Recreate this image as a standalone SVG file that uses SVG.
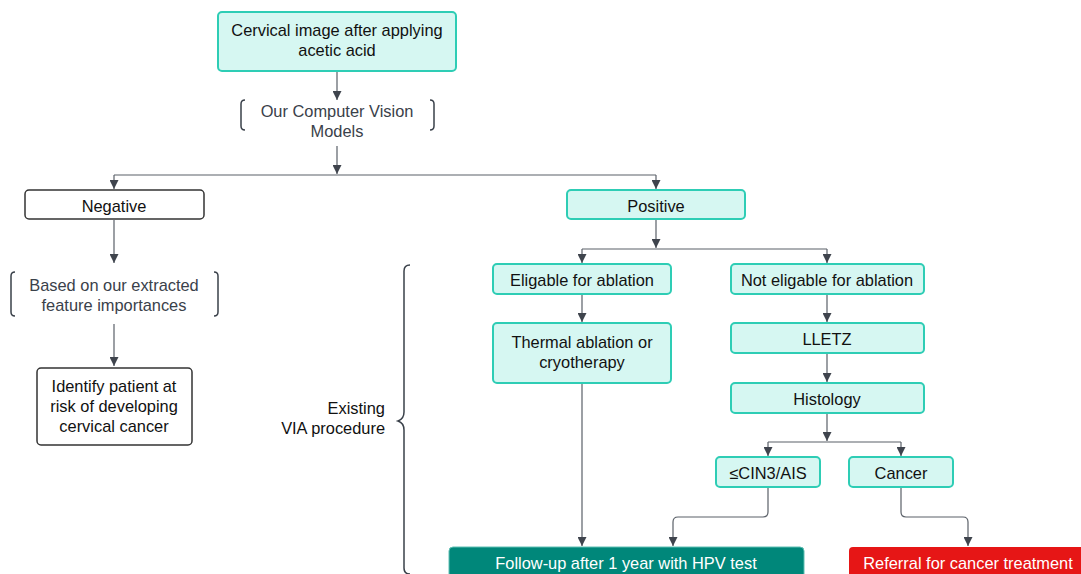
<svg xmlns="http://www.w3.org/2000/svg" width="1081" height="574" viewBox="0 0 1081 574">
  <defs>
    <marker id="arrow" viewBox="0 0 10 10" refX="10" refY="5" markerWidth="9" markerHeight="9" markerUnits="userSpaceOnUse" orient="auto">
      <path d="M0,0 L10,5 L0,10 Z" fill="#3f444d"/>
    </marker>
    <style>
      text { font-family: "Liberation Sans", Arial, sans-serif; font-size: 16.4px; text-anchor: middle; fill: #111; }
      .box { fill: #d6f7f2; stroke: #2ecdb5; stroke-width: 2; }
      .plain { fill: #ffffff; stroke: #333333; stroke-width: 1.5; }
      .note { fill: #3a414a; }
      .bracket { fill: none; stroke: #3a414a; stroke-width: 1.5; }
      .wire { fill: none; stroke: #5a6068; stroke-width: 1.2; }
      .arrow { marker-end: url(#arrow); }
      .light { fill: #ffffff; }
    </style>
  </defs>

  <!-- connectors -->
  <g id="connectors">
    <path class="wire arrow" d="M337,72 V100"/>
    <path class="wire arrow" d="M337,146 V174"/>
    <path class="wire" d="M114,175 H656"/>
    <path class="wire arrow" d="M114,175 V189"/>
    <path class="wire arrow" d="M656,175 V189"/>
    <path class="wire arrow" d="M114,220 V263"/>
    <path class="wire arrow" d="M114,324 V366"/>
    <path class="wire arrow" d="M656,220 V248"/>
    <path class="wire" d="M582,249 H827"/>
    <path class="wire arrow" d="M582,249 V263"/>
    <path class="wire arrow" d="M827,249 V263"/>
    <path class="wire arrow" d="M582,295 V322"/>
    <path class="wire arrow" d="M582,384 V546"/>
    <path class="wire arrow" d="M827,295 V322"/>
    <path class="wire arrow" d="M827,354 V382"/>
    <path class="wire arrow" d="M827,414 V441"/>
    <path class="wire" d="M768,442 H901"/>
    <path class="wire arrow" d="M768,442 V456"/>
    <path class="wire arrow" d="M901,442 V456"/>
    <path class="wire arrow" d="M768,488 V512 Q768,517 763,517 H678 Q673,517 673,522 V546"/>
    <path class="wire arrow" d="M901,488 V512 Q901,517 906,517 H963 Q968,517 968,522 V546"/>
  </g>

  <g id="node-input">
    <rect class="box" x="218" y="12" width="238" height="59" rx="4"/>
    <text x="337" y="36">Cervical image after applying</text>
    <text x="337" y="56">acetic acid</text>
  </g>

  <g id="node-models">
    <path class="bracket" d="M245,100 Q241,100 241,104 V126 Q241,130 245,130"/>
    <path class="bracket" d="M430,100 Q434,100 434,104 V126 Q434,130 430,130"/>
    <text class="note" x="337" y="117">Our Computer Vision</text>
    <text class="note" x="337" y="137">Models</text>
  </g>

  <g id="node-negative">
    <rect class="plain" x="25" y="190" width="179" height="29" rx="4"/>
    <text x="114" y="212">Negative</text>
  </g>

  <g id="node-features">
    <path class="bracket" d="M15,272 Q11,272 11,276 V312 Q11,316 15,316"/>
    <path class="bracket" d="M214,272 Q218,272 218,276 V312 Q218,316 214,316"/>
    <text class="note" x="114" y="291">Based on our extracted</text>
    <text class="note" x="114" y="311">feature importances</text>
  </g>

  <g id="node-risk">
    <rect class="plain" x="37" y="368" width="155" height="77" rx="4"/>
    <text x="114" y="392">Identify patient at</text>
    <text x="114" y="412">risk of developing</text>
    <text x="114" y="432">cervical cancer</text>
  </g>

  <g id="node-positive">
    <rect class="box" x="567" y="190" width="178" height="29" rx="4"/>
    <text x="656" y="212">Positive</text>
  </g>

  <g id="node-eligible">
    <rect class="box" x="493" y="264" width="178" height="30" rx="4"/>
    <text x="582" y="286">Eligable for ablation</text>
  </g>

  <g id="node-ablation">
    <rect class="box" x="493" y="323" width="178" height="60" rx="4"/>
    <text x="582" y="348">Thermal ablation or</text>
    <text x="582" y="368">cryotherapy</text>
  </g>

  <g id="node-not-eligible">
    <rect class="box" x="731" y="264" width="193" height="30" rx="4"/>
    <text x="827" y="286">Not eligable for ablation</text>
  </g>

  <g id="node-lletz">
    <rect class="box" x="731" y="323" width="193" height="30" rx="4"/>
    <text x="827" y="345">LLETZ</text>
  </g>

  <g id="node-histology">
    <rect class="box" x="731" y="383" width="193" height="30" rx="4"/>
    <text x="827" y="405">Histology</text>
  </g>

  <g id="node-cin3">
    <rect class="box" x="716" y="457" width="104" height="30" rx="4"/>
    <text x="768" y="479">≤CIN3/AIS</text>
  </g>

  <g id="node-cancer">
    <rect class="box" x="849" y="457" width="104" height="30" rx="4"/>
    <text x="901" y="479">Cancer</text>
  </g>

  <g id="node-followup">
    <rect x="449" y="547" width="355" height="40" rx="4" fill="#00877a" stroke="#5fbfb3" stroke-width="1"/>
    <text class="light" x="626" y="569">Follow-up after 1 year with HPV test</text>
  </g>

  <g id="node-referral">
    <rect x="849" y="547" width="240" height="40" rx="4" fill="#e61616"/>
    <text class="light" x="968" y="569">Referral for cancer treatment</text>
  </g>

  <g id="node-via">
    <path class="bracket" d="M410,265 Q404,265 404,271 V412 Q404,419 398,421 Q404,423 404,430 V568 Q404,574 410,574"/>
    <text x="385" y="414" style="text-anchor:end" fill="#222">Existing</text>
    <text x="385" y="434" style="text-anchor:end" fill="#222">VIA procedure</text>
  </g>
</svg>
